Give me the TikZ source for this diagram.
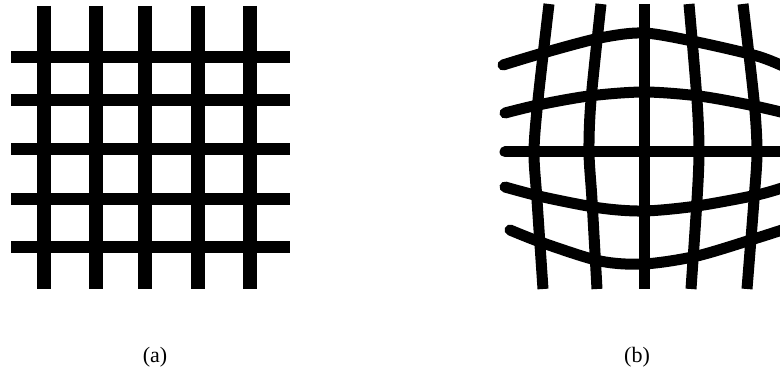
\documentclass[tikz,border=0pt]{standalone}
\usepackage{fontspec}
\setmainfont{Liberation Serif}
\usepackage{tikz}

\tikzset{
  gridbar/.style={line width=13pt},
  warpbar/.style={line width=11pt, line cap=round},
  warpstem/.style={line width=11pt},
  caption/.style={font=\fontsize{22}{26}\selectfont, inner sep=0pt}
}

\begin{document}
\begin{tikzpicture}[x=1pt, y=-1pt]
  \useasboundingbox (0,0) rectangle (780,377);
  % Regular grid
  \foreach \x in {44, 96, 145, 198, 250} {
    \draw[gridbar, line width=14pt] (\x,6) -- (\x,289);
  }
  \foreach \y in {57, 100, 149, 199, 247} {
    \draw[gridbar, line width=12pt] (11,\y) -- (290,\y);
  }
  % Distorted grid
  \begin{scope}
    \clip (495,0) rectangle (780,300);
    \draw[warpstem] plot[smooth] coordinates {(549,4) (538,100) (534,152) (537,200) (543,289)};
    \draw[warpstem] plot[smooth] coordinates {(601,4) (591,100) (589,152) (592,200) (597,289)};
    \draw[warpstem] (644,4) -- (644,289);
    \draw[warpstem] plot[smooth] coordinates {(689,4) (697,100) (699,152) (697,200) (691,289)};
    \draw[warpstem] plot[smooth] coordinates {(743,4) (754,100) (757,152) (754,200) (747,289)};
    \draw[warpbar] plot[smooth] coordinates {(503,65) (543,53) (600,38) (644,33) (697,42) (757,56) (785,67)};
    \draw[warpbar] plot[smooth] coordinates {(505,113) (538,105) (589,96) (644,92) (699,96) (750,105) (785,113)};
    \draw[warpbar] (505,152) -- (785,152);
    \draw[warpbar] plot[smooth] coordinates {(505,187) (543,197) (600,208) (644,211) (697,206) (757,195) (785,187)};
    \draw[warpbar] plot[smooth] coordinates {(510,230) (543,243) (600,261) (644,264) (697,256) (757,238) (785,229)};
  \end{scope}
  % Captions
  \node[caption] (capa) at (155,357) {(a)};
  \node[caption] (capb) at (637,357) {(b)};
\end{tikzpicture}
\end{document}
